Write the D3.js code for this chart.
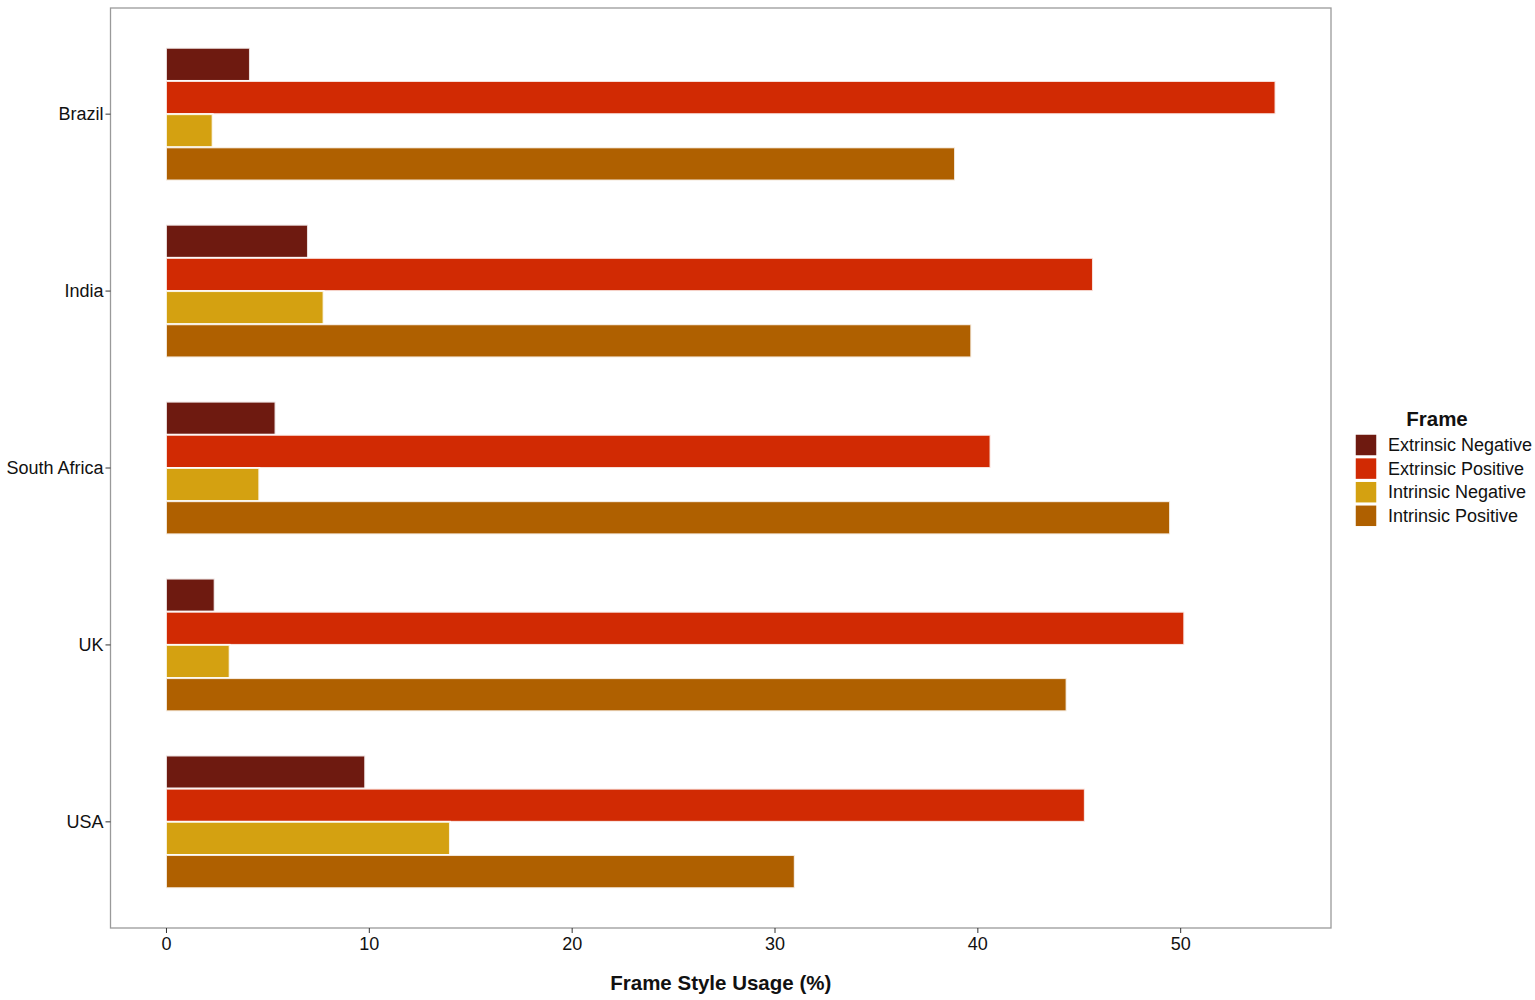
<!DOCTYPE html>
<html>
<head>
<meta charset="utf-8">
<script src="https://cdn.jsdelivr.net/npm/d3@7"></script>
<style>
  body { margin: 0; background: #fff; }
  text { font-family: "Liberation Sans", Arial, sans-serif; }
</style>
</head>
<body>
<script>
// categories, series and tick labels
const countries = ['Brazil', 'India', 'South Africa', 'UK', 'USA'];
const frames = ['Extrinsic Negative', 'Extrinsic Positive', 'Intrinsic Negative', 'Intrinsic Positive'];
const extrinsicNegative = [4.14, 7.0, 5.4, 2.4, 9.82];
const extrinsicPositive = [54.7, 45.7, 40.65, 50.2, 45.3];
const intrinsicNegative = [2.3, 7.77, 4.6, 3.14, 14.0];
const intrinsicPositive = [38.9, 39.7, 49.5, 44.4, 31.0];
const xTicks = [0, 10, 20, 30, 40, 50];
const frameColors = ['#6e1a10', '#d12a03', '#d4a111', '#af6000'];

const series = [extrinsicNegative, extrinsicPositive, intrinsicNegative, intrinsicPositive];

// build a long table for drawing
const rows = [];
countries.forEach((c, i) => {
    frames.forEach((f, j) => rows.push({ country: c, frame: f, value: series[j][i] }));
});

const W = 1535, H = 1000;
const panel = { left: 110.5, right: 1331, top: 8, bottom: 928 };

const svg = d3.select('body')
    .append('svg')
    .attr('width', W)
    .attr('height', H);

// ggplot-like 5% expansion on x
const maxVal = d3.max(rows, d => d.value);
const pad = maxVal * 0.05;
const x = d3.scaleLinear()
    .domain([-pad, maxVal + pad])
    .range([panel.left, panel.right]);

const y = d3.scaleBand()
    .domain(countries)
    .range([panel.top, panel.bottom])
    .paddingInner(0.25)
    .paddingOuter(0.225);

const yInner = d3.scaleBand()
    .domain(frames)
    .range([0, y.bandwidth()]);

const color = d3.scaleOrdinal().domain(frames).range(frameColors);

// bars
svg.append('g')
    .selectAll('rect')
    .data(rows)
    .join('rect')
    .attr('x', x(0))
    .attr('y', d => y(d.country) + yInner(d.frame))
    .attr('width', d => x(d.value) - x(0))
    .attr('height', yInner.bandwidth())
    .attr('fill', d => color(d.frame))
    .attr('stroke', '#fff')
    .attr('stroke-opacity', 0.85)
    .attr('stroke-width', 2);

// panel border
svg.append('rect')
    .attr('x', panel.left)
    .attr('y', panel.top)
    .attr('width', panel.right - panel.left)
    .attr('height', panel.bottom - panel.top)
    .attr('fill', 'none')
    .attr('stroke', '#9a9a9a')
    .attr('stroke-width', 1.3);

// x axis
const xAxis = svg.append('g')
    .attr('transform', `translate(0,${panel.bottom})`)
    .call(d3.axisBottom(x).tickValues(xTicks).tickSize(5).tickPadding(4).tickFormat(d3.format('d')));
xAxis.select('.domain').remove();
xAxis.selectAll('line').attr('stroke', '#333');
xAxis.selectAll('text').attr('font-size', 18).attr('fill', '#111');

// y axis (center of each country group)
const yAxis = svg.append('g')
    .attr('transform', `translate(${panel.left},0)`)
    .call(d3.axisLeft(y).tickSize(5).tickPadding(2));
yAxis.select('.domain').remove();
yAxis.selectAll('line').attr('stroke', '#333');
yAxis.selectAll('text').attr('font-size', 18).attr('fill', '#111');

// axis title
svg.append('text')
    .attr('x', (panel.left + panel.right) / 2)
    .attr('y', 990)
    .attr('text-anchor', 'middle')
    .attr('font-size', 20.5)
    .attr('font-weight', 'bold')
    .attr('fill', '#111')
    .text('Frame Style Usage (%)');

// legend
const legend = svg.append('g').attr('transform', 'translate(1355,434)');
legend.append('text')
    .attr('x', 82)
    .attr('y', -8)
    .attr('text-anchor', 'middle')
    .attr('font-size', 20.5)
    .attr('font-weight', 'bold')
    .attr('fill', '#111')
    .text('Frame');

const item = legend.selectAll('g.item')
    .data(frames)
    .join('g')
    .attr('class', 'item')
    .attr('transform', (d, i) => `translate(0,${i * 23.6})`);

item.append('rect')
    .attr('width', 22)
    .attr('height', 22)
    .attr('fill', d => color(d))
    .attr('stroke', '#fff')
    .attr('stroke-width', 1.5);

item.append('text')
    .attr('x', 33)
    .attr('y', 11)
    .attr('dy', '0.35em')
    .attr('font-size', 18)
    .attr('fill', '#111')
    .text(d => d);
</script>
</body>
</html>
